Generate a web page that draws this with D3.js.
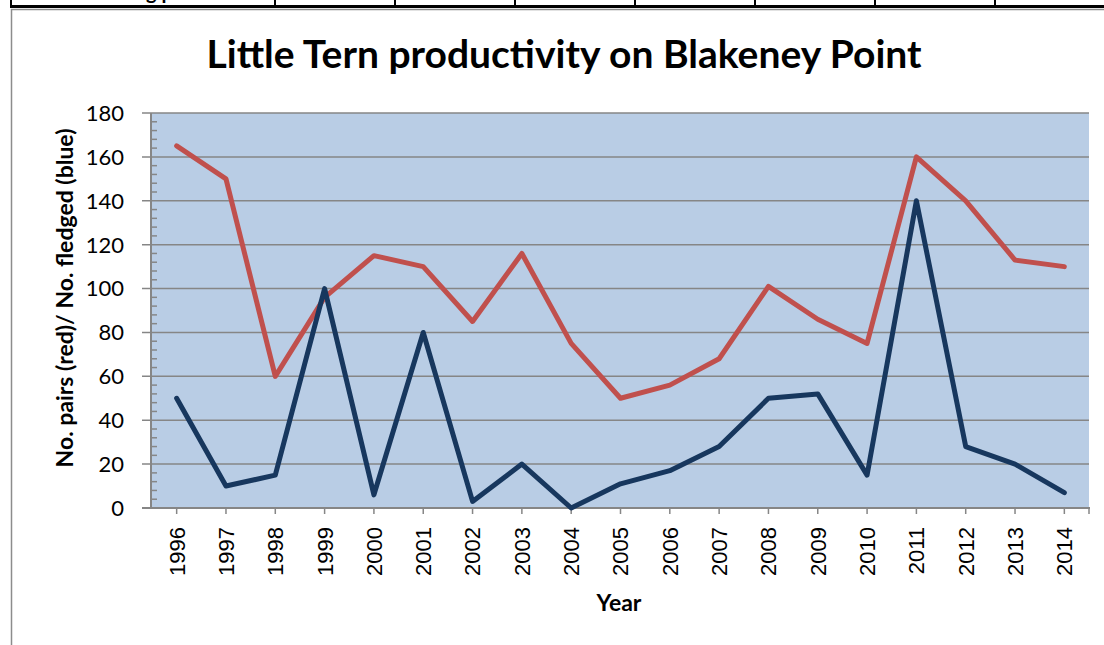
<!DOCTYPE html>
<html>
<head>
<meta charset="utf-8">
<script src="https://cdn.jsdelivr.net/npm/d3@7"></script>
<style>
  body { margin: 0; background: #fff; }
  svg { display: block; }
</style>
</head>
<body>
<div id="vis"></div>
<script>
var width = 1104;
var height = 645;

// data
const years = ["1996", "1997", "1998", "1999", "2000", "2001", "2002", "2003", "2004", "2005",
  "2006", "2007", "2008", "2009", "2010", "2011", "2012", "2013", "2014"];
const pairs = [165, 150, 60, 96, 115, 110, 85, 116, 75, 50, 56, 68, 101, 86, 75, 160, 140, 113, 110];
const fledged = [50, 10, 15, 100, 6, 80, 3, 20, 0, 11, 17, 28, 50, 52, 15, 140, 28, 20, 7];
const yTicks = [0, 20, 40, 60, 80, 100, 120, 140, 160, 180];

const RED = "#C0504D";
const BLUE = "#17375E";
const GRID = "#868686";
const CAL = "Lato, 'Open Sans', sans-serif";

var svg = d3.select("#vis").append("svg")
  .attr("width", width)
  .attr("height", height);

// bits of the worksheet table above the chart
svg.append("line").attr("x1", 10).attr("x2", width).attr("y1", 6.5).attr("y2", 6.5)
  .attr("stroke", "#000").attr("stroke-width", 3);
[11, 275, 395, 515, 635, 755, 875, 995].forEach(function (x) {
  svg.append("line").attr("x1", x).attr("x2", x).attr("y1", 0).attr("y2", 6)
    .attr("stroke", "#000").attr("stroke-width", 2);
});
svg.append("text").attr("x", 146).attr("y", -1)
  .style("font-family", CAL).style("font-weight", "bold").style("font-size", "20px")
  .text("g p");

// chart frame
svg.append("path").attr("d", "M11.5,645 L11.5,9.5 L1104,9.5")
  .attr("fill", "none").attr("stroke", "#8c8c8c").attr("stroke-width", 1.5);

// plot area
var pLeft = 152, pRight = 1089, pTop = 113, pBottom = 508;

var x = d3.scaleBand().domain(years).range([pLeft, pRight]).padding(0);
var y = d3.scaleLinear().domain([0, 180]).range([pBottom, pTop]);
var cx = function (d) { return x(d) + x.bandwidth() / 2; };

svg.append("rect")
  .attr("x", pLeft).attr("y", pTop)
  .attr("width", pRight - pLeft).attr("height", pBottom - pTop)
  .attr("fill", "#B9CDE5");

// gridlines + major ticks
svg.selectAll(".grid").data(yTicks.slice(1)).enter().append("line")
  .attr("class", "grid")
  .attr("x1", pLeft - 10).attr("x2", pRight)
  .attr("y1", function (d) { return y(d); })
  .attr("y2", function (d) { return y(d); })
  .attr("stroke", GRID).attr("stroke-width", 1.5);

// minor ticks, inside the plot
var minor = d3.range(4, 180, 4).filter(function (d) { return d % 20 != 0; });
svg.selectAll(".minor").data(minor).enter().append("line")
  .attr("class", "minor")
  .attr("x1", pLeft - 1).attr("x2", pLeft + 5)
  .attr("y1", function (d) { return y(d); })
  .attr("y2", function (d) { return y(d); })
  .attr("stroke", GRID).attr("stroke-width", 1.5);

// y axis line
svg.append("line").attr("x1", pLeft - 1).attr("x2", pLeft - 1)
  .attr("y1", pTop).attr("y2", pBottom)
  .attr("stroke", GRID).attr("stroke-width", 2);

// y tick labels
svg.selectAll(".ylab").data(yTicks).enter().append("text")
  .attr("class", "ylab")
  .attr("x", 124)
  .attr("y", function (d) { return y(d); })
  .attr("dy", "0.36em")
  .attr("text-anchor", "end")
  .style("font-family", CAL).style("font-size", "22px")
  .text(function (d) { return d; });

// x axis
var xAxis = svg.append("g")
  .attr("transform", "translate(0," + pBottom + ")")
  .call(d3.axisBottom(x).tickSize(6).tickSizeOuter(0));
xAxis.select(".domain").remove();
xAxis.append("line").attr("x1", pLeft - 10).attr("x2", pRight + 1)
  .attr("stroke", GRID).attr("stroke-width", 2);
xAxis.append("line").attr("x1", pRight).attr("x2", pRight).attr("y1", 0).attr("y2", 6)
  .attr("stroke", GRID).attr("stroke-width", 1.5);
xAxis.selectAll(".tick line").attr("stroke", GRID).attr("stroke-width", 1.5);
xAxis.selectAll(".tick text")
  .attr("transform", "rotate(-90)")
  .attr("x", -19).attr("y", 0).attr("dy", "0.36em")
  .attr("text-anchor", "end")
  .attr("fill", "#000")
  .style("font-family", "'Liberation Sans', Arial, sans-serif")
  .style("font-size", "22px");

// series lines
var line = function (vals) {
  return d3.line()
    .x(function (d, i) { return cx(years[i]); })
    .y(function (d) { return y(d); })(vals);
};

svg.append("path").attr("d", line(pairs))
  .attr("fill", "none").attr("stroke", RED).attr("stroke-width", 5)
  .attr("stroke-linejoin", "round").attr("stroke-linecap", "round");

svg.append("path").attr("d", line(fledged))
  .attr("fill", "none").attr("stroke", BLUE).attr("stroke-width", 5)
  .attr("stroke-linejoin", "round").attr("stroke-linecap", "round");

// titles
svg.append("text")
  .attr("x", 564).attr("y", 68)
  .attr("text-anchor", "middle")
  .style("font-family", CAL).style("font-weight", "bold").style("font-size", "39px")
  .text("Little Tern productivity on Blakeney Point");

svg.append("text")
  .attr("x", 619).attr("y", 611)
  .attr("text-anchor", "middle")
  .style("font-family", CAL).style("font-weight", "bold").style("font-size", "23px")
  .text("Year");

svg.append("text")
  .attr("transform", "translate(73,298) rotate(-90)")
  .attr("text-anchor", "middle")
  .style("font-family", CAL).style("font-weight", "bold").style("font-size", "23px")
  .text("No. pairs (red)/ No. fledged (blue)");
</script>
</body>
</html>
